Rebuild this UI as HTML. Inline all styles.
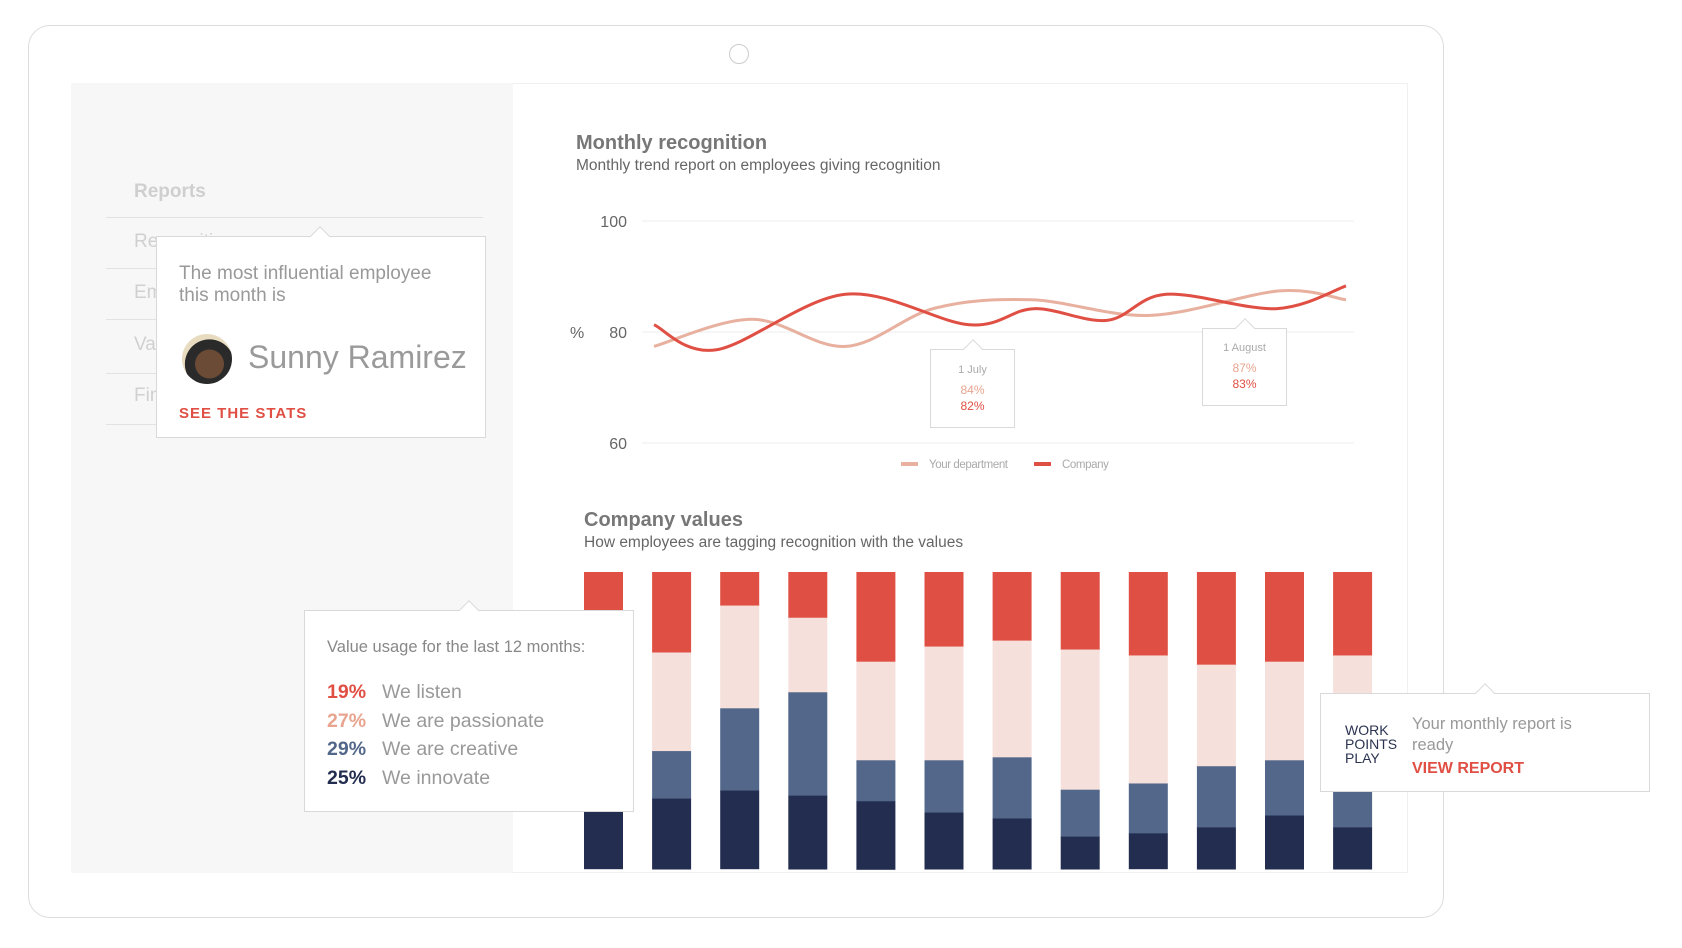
<!DOCTYPE html>
<html><head><meta charset="utf-8">
<style>
*{margin:0;padding:0;box-sizing:border-box}
body{width:1682px;height:948px;background:#fff;position:relative;overflow:hidden;font-family:"Liberation Sans",sans-serif}
.abs{position:absolute}
.tip{position:absolute;background:#fff;border:1px solid #d9d9d9}
.tip .ptr{position:absolute;top:-8px;width:14px;height:14px;background:#fff;border-left:1px solid #d9d9d9;border-top:1px solid #d9d9d9;transform:rotate(45deg)}
</style></head><body>
<div class="abs" style="left:28px;top:25px;width:1416px;height:893px;border:1px solid #dcdcdc;border-radius:22px"></div>
<div class="abs" style="left:729px;top:44px;width:20px;height:20px;border:1px solid #ccc;border-radius:50%"></div>
<div class="abs" style="left:71px;top:83px;width:1337px;height:790px;border:1px solid #f0f0f0;background:#fff"></div>
<div class="abs" style="left:71px;top:83px;width:442px;height:790px;background:#f7f7f7"></div>
<div class="abs" style="left:134px;top:181px;font-size:19px;font-weight:bold;color:#cfcfcf">Reports</div>
<div class="abs" style="left:106px;top:217px;width:377px;border-top:1px solid #e2e2e2"></div>
<div class="abs" style="left:134px;top:231px;font-size:19px;color:#d0d0d0">Recognition</div>
<div class="abs" style="left:106px;top:268px;width:377px;border-top:1px solid #e2e2e2"></div>
<div class="abs" style="left:134px;top:282px;font-size:19px;color:#d0d0d0">Employees</div>
<div class="abs" style="left:106px;top:319px;width:377px;border-top:1px solid #e2e2e2"></div>
<div class="abs" style="left:134px;top:334px;font-size:19px;color:#d0d0d0">Values</div>
<div class="abs" style="left:106px;top:373px;width:377px;border-top:1px solid #e2e2e2"></div>
<div class="abs" style="left:134px;top:385px;font-size:19px;color:#d0d0d0">Finance</div>
<div class="abs" style="left:106px;top:424px;width:377px;border-top:1px solid #e2e2e2"></div>

<div class="abs" style="left:576px;top:132px;font-size:20px;font-weight:bold;color:#777">Monthly recognition</div>
<div class="abs" style="left:576px;top:157px;font-size:15.5px;color:#666">Monthly trend report on employees giving recognition</div>
<div class="abs" style="left:584px;top:509px;font-size:20px;font-weight:bold;color:#777">Company values</div>
<div class="abs" style="left:584px;top:534px;font-size:15.5px;color:#666">How employees are tagging recognition with the values</div>

<svg class="abs" style="left:0;top:0" width="1682" height="948">
<g id="line"></g><g id="bars"></g>
</svg>

<div class="tip" style="left:930px;top:349px;width:85px;height:79px"><div class="ptr" style="left:35px"></div>
<div style="position:absolute;top:14px;width:100%;text-align:center;font-size:11px;color:#aaa">1 July</div>
<div style="position:absolute;top:33px;width:100%;text-align:center;font-size:12px;color:#e8a48e">84%</div>
<div style="position:absolute;top:49px;width:100%;text-align:center;font-size:12px;color:#e04f43">82%</div></div>
<div class="tip" style="left:1202px;top:328px;width:85px;height:78px"><div class="ptr" style="left:35px"></div>
<div style="position:absolute;top:13px;width:100%;text-align:center;font-size:11px;color:#aaa">1 August</div>
<div style="position:absolute;top:32px;width:100%;text-align:center;font-size:12px;color:#e8a48e">87%</div>
<div style="position:absolute;top:48px;width:100%;text-align:center;font-size:12px;color:#e04f43">83%</div></div>

<div class="tip" style="left:156px;top:236px;width:330px;height:202px"><div class="ptr" style="left:156px"></div>
<div style="position:absolute;left:22px;top:26px;font-size:19px;line-height:22px;color:#999">The most influential employee<br>this month is</div>
<div style="position:absolute;left:25px;top:97px;width:50px;height:50px;border-radius:50%;background:radial-gradient(circle at 55% 60%,#6b4a36 0 35%,#2a2a2a 36% 60%,#e8dcc0 61%)"></div>
<div style="position:absolute;left:91px;top:102px;font-size:32px;color:#9a9a9a">Sunny Ramirez</div>
<div style="position:absolute;left:22px;top:168px;font-size:15px;font-weight:bold;letter-spacing:1px;color:#e04f43">SEE THE STATS</div></div>

<div class="tip" style="left:304px;top:610px;width:330px;height:202px"><div class="ptr" style="left:157px"></div>
<div style="position:absolute;left:22px;top:27px;font-size:16.5px;color:#888">Value usage for the last 12 months:</div>
<div id="vrows"></div></div>

<div class="tip" style="left:1320px;top:693px;width:330px;height:99px"><div class="ptr" style="left:157px"></div>
<div style="position:absolute;left:24px;top:29px;font-size:14px;line-height:14px;color:#2b3350">WORK<br>POINTS<br>PLAY</div>
<div style="position:absolute;left:91px;top:20px;font-size:16.5px;line-height:21px;color:#999">Your monthly report is<br>ready</div>
<div style="position:absolute;left:91px;top:66px;font-size:16px;font-weight:bold;color:#e04f43">VIEW REPORT</div></div>

<script>
// line chart data
const lineYTicks=[60,80,100];
const deptX=[0,91,178,261,351,461,581,643];
const deptVals=[77.4,82.3,77.4,84.3,85.8,83.0,87.4,85.8];
const compX=[0,58,178,293,353,421,476,578,643];
const compVals=[81.3,76.8,86.8,81.3,84.2,82.1,86.8,84.2,88.3];
// bar chart data (percent per segment, top to bottom)
const barRed=[25.1,27.1,11.3,15.4,30.2,25.1,23.1,26.1,28.1,31.2,30.2,28.1];
const barPink=[34.4,33.2,34.6,25.1,33.2,38.3,39.3,47.2,43.1,34.2,33.2,33.4];
const barBlue=[20.2,16.0,27.7,34.8,13.8,17.6,20.6,15.8,16.8,20.6,18.6,24.5];
const barDark=[20.2,23.7,26.3,24.7,22.9,19.0,17.0,10.9,11.9,14.0,18.0,14.0];
const valuePct=["19%","27%","29%","25%"];
const valueNames=["We listen","We are passionate","We are creative","We innovate"];

const NS="http://www.w3.org/2000/svg";
function mk(t,a,p){const e=document.createElementNS(NS,t);for(const k in a)e.setAttribute(k,a[k]);p.appendChild(e);return e;}
const yS=v=>443-(v-60)/40*222;
const xS=d=>654+d*(692/643);
const L=document.getElementById('line');
lineYTicks.forEach(t=>{
 const g=mk('line',{x1:642,x2:1354,y1:yS(t),y2:yS(t),stroke:'#eeeeee','stroke-width':1},L);
 
 const tx=mk('text',{x:627,y:yS(t)+6,'text-anchor':'end','font-size':16,fill:'#666','font-family':'Liberation Sans'},L);
 tx.textContent=t;
});
const pc=mk('text',{x:570,y:yS(80)+6,'font-size':16,fill:'#666','font-family':'Liberation Sans'},L);
pc.textContent='%';
function path(xs,vs){const P=xs.map((x,i)=>[xS(x),yS(vs[i])]);let d='M'+P[0][0]+','+P[0][1];
 for(let i=0;i<P.length-1;i++){const p0=P[Math.max(0,i-1)],p1=P[i],p2=P[i+1],p3=P[Math.min(P.length-1,i+2)];
 const c1=[p1[0]+(p2[0]-p0[0])/6,p1[1]+(p2[1]-p0[1])/6],c2=[p2[0]-(p3[0]-p1[0])/6,p2[1]-(p3[1]-p1[1])/6];
 d+=` C${c1[0]},${c1[1]} ${c2[0]},${c2[1]} ${p2[0]},${p2[1]}`;}return d;}
const dp=mk('path',{d:path(deptX,deptVals),fill:'none',stroke:'#e8b09f','stroke-width':3},L);

const cp=mk('path',{d:path(compX,compVals),fill:'none',stroke:'#e04f43','stroke-width':3},L);

// legend
[[901,'#e8b09f','Your department'],[1034,'#e04f43','Company']].forEach(([x,c,n])=>{
 const r=mk('rect',{x:x,y:462,width:17,height:4,fill:c},L);
 const t=mk('text',{x:x+28,y:468,'font-size':11.5,fill:'#aaa','font-family':'Liberation Sans','letter-spacing':'-0.4'},L);t.textContent=n;
 
});
// bars
const B=document.getElementById('bars');const barTop=572,H=297,cols=['#e04f43','#f5e0db','#52678a','#232d4f'];
barRed.forEach((_,i)=>{const x=584+i*68.1;let y=barTop;
 [barRed[i],barPink[i],barBlue[i],barDark[i]].forEach((v,j)=>{const h=v/100*H;
  const r=mk('rect',{x:x,y:y,width:39,height:h+0.5,fill:cols[j]},B);
  y+=h;});
});
// value rows
const VR=document.getElementById('vrows');const vc=['#e04f43','#e8a48e','#52678a','#232d4f'];
valuePct.forEach((p,i)=>{const d=document.createElement('div');
 
 
 d.style.cssText=`position:absolute;left:22px;top:${70+i*28.5}px;font-size:19.5px;color:#999;white-space:nowrap`;
 d.innerHTML=`<span style="color:${vc[i]};font-weight:bold;display:inline-block;width:55px">${p}</span>${valueNames[i]}`;VR.appendChild(d);});
</script>
</body></html>
